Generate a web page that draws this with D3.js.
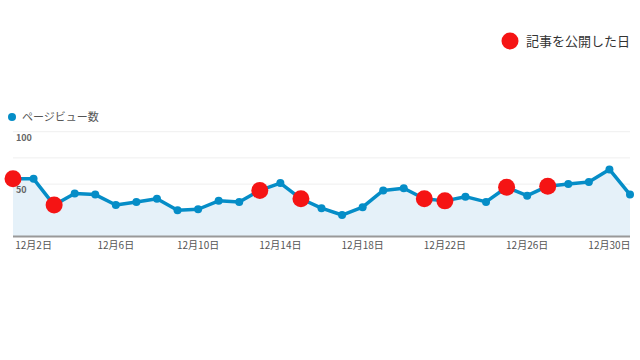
<!DOCTYPE html>
<html><head><meta charset="utf-8">
<script src="https://cdn.jsdelivr.net/npm/d3@7"></script>
<style>body{margin:0;background:#fff;}svg{display:block;font-family:"Noto Sans CJK JP","Noto Sans",sans-serif;}</style>
</head><body><svg id="c" width="640" height="360"></svg>
<script>
const days = d3.range(1, 32);
const pageViews = [55,55,30,41,40,30,33,36,25,26,34,33,44,51,36,27,20.5,28,44,46,36,34,38,33,47,39,48,50,52,64,40];
const publishedDays = [1,3,13,15,21,22,25,27];
const xTickDays = [2,6,10,14,18,22,26,30];
const yTicks = [100, 50];
const gridValues = [100, 75, 50];
const seriesLabel = "ページビュー数";
const publishLabel = "記事を公開した日";

const svg = d3.select("#c");
const x = d3.scaleLinear().domain([1, 31]).range([13, 630]);
const y = d3.scaleLinear().domain([0, 100]).range([236.5, 131.7]);

svg.append("g").selectAll("line").data(gridValues).join("line")
  .attr("x1", 13).attr("x2", 630).attr("y1", d => y(d)).attr("y2", d => y(d))
  .attr("stroke", "#efefef").attr("stroke-width", 1);

const data = days.map((d, i) => ({day: d, v: pageViews[i]}));
svg.append("path").datum(data)
  .attr("d", d3.area().x(d => x(d.day)).y0(y(0)).y1(d => y(d.v)))
  .attr("fill", "#e5f1f9");
svg.append("path").datum(data)
  .attr("d", d3.line().x(d => x(d.day)).y(d => y(d.v)))
  .attr("fill", "none").attr("stroke", "#058dc7").attr("stroke-width", 3.5).attr("stroke-linejoin", "round");
svg.append("g").selectAll("circle").data(data).join("circle")
  .attr("cx", d => x(d.day)).attr("cy", d => y(d.v)).attr("r", 4).attr("fill", "#058dc7");

svg.append("line").attr("x1", 13).attr("x2", 630).attr("y1", y(0)).attr("y2", y(0))
  .attr("stroke", "#999").attr("stroke-width", 2);

svg.append("g").selectAll("circle").data(data.filter(d => publishedDays.includes(d.day))).join("circle")
  .attr("cx", d => x(d.day)).attr("cy", d => y(d.v)).attr("r", 8.5).attr("fill", "#f51414");

svg.append("g").selectAll("text").data(yTicks).join("text")
  .attr("x", 16).attr("y", d => y(d) + 9).text(d => d)
  .attr("font-size", 9).attr("font-weight", "bold").attr("fill", "#666");

svg.append("g").selectAll("text").data(xTickDays).join("text")
  .attr("x", d => x(d)).attr("y", 249).attr("text-anchor", "middle")
  .text(d => `12月${d}日`).attr("font-size", 10).attr("fill", "#555");

svg.append("circle").attr("cx", 12).attr("cy", 117).attr("r", 4).attr("fill", "#058dc7");
svg.append("text").attr("x", 22).attr("y", 121).text(seriesLabel).attr("font-size", 11).attr("fill", "#555");

svg.append("circle").attr("cx", 510).attr("cy", 41).attr("r", 8.5).attr("fill", "#f51414");
svg.append("text").attr("x", 526).attr("y", 46).text(publishLabel).attr("font-size", 13).attr("fill", "#333");
</script></body></html>
